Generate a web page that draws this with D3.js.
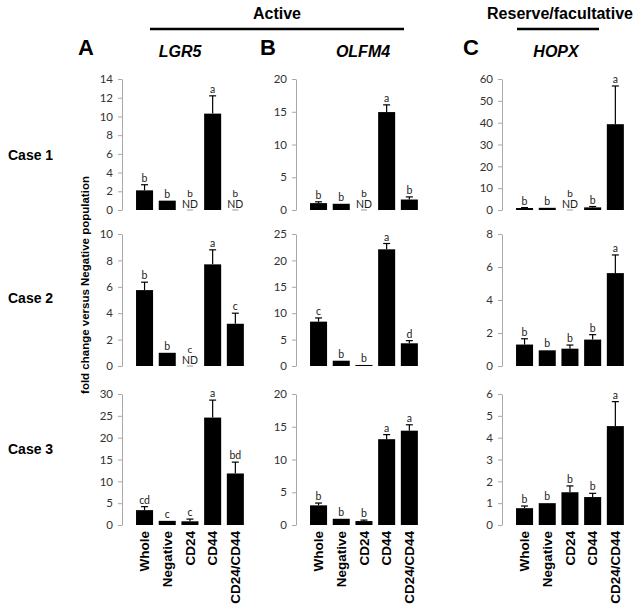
<!DOCTYPE html>
<html><head><meta charset="utf-8">
<script src="https://cdn.jsdelivr.net/npm/d3@7"></script>
<style>
body{margin:0;background:#fff;}
svg{display:block;}
</style></head>
<body><svg id="chart" width="641" height="611"></svg>
<script>
const categories = ["Whole","Negative","CD24","CD44","CD24/CD44"];
const genes = ["LGR5","OLFM4","HOPX"];
const panelLetters = ["A","B","C"];
const cases = ["Case 1","Case 2","Case 3"];

// null = ND (not detected)
const lgr5Means   = [[2.1,1.0,null,10.3,null],[5.75,1.0,null,7.7,3.2],[3.4,0.95,0.85,24.6,11.8]];
const lgr5Errors  = [[0.6,0,null,1.9,null],[0.6,0,null,1.1,0.8],[0.8,0,0.5,4.0,2.6]];
const lgr5Letters = [["b","b","b","a","b"],["b","b","c","a","c"],["cd","c","c","a","bd"]];

const olfm4Means   = [[1.05,0.95,null,14.95,1.6],[8.4,1.0,0.2,22.1,4.3],[3.0,0.95,0.6,13.1,14.4]];
const olfm4Errors  = [[0.2,0,null,1.1,0.4],[0.7,0,0,1.1,0.5],[0.35,0,0.15,0.7,0.9]];
const olfm4Letters = [["b","b","b","a","b"],["c","b","b","a","d"],["b","b","b","a","a"]];

const hopxMeans   = [[0.9,1.0,null,1.2,39.3],[1.3,0.95,1.05,1.6,5.63],[0.77,1.0,1.5,1.28,4.53]];
const hopxErrors  = [[0.2,0,null,0.4,17.5],[0.35,0,0.22,0.3,1.1],[0.1,0,0.29,0.17,1.12]];
const hopxLetters = [["b","b","b","b","a"],["b","b","b","b","a"],["b","b","b","b","a"]];

const lgr5YMax = [14,10,30],  lgr5YStep = [2,2,5];
const olfm4YMax = [20,25,20], olfm4YStep = [5,5,5];
const hopxYMax = [60,8,6],    hopxYStep = [10,2,1];

const groupTitles = ["Active","Reserve/facultative"];
const yTitle = "fold change versus Negative population";

const geneData = [
  {means:lgr5Means, errs:lgr5Errors, letters:lgr5Letters, ymax:lgr5YMax, ystep:lgr5YStep},
  {means:olfm4Means, errs:olfm4Errors, letters:olfm4Letters, ymax:olfm4YMax, ystep:olfm4YStep},
  {means:hopxMeans, errs:hopxErrors, letters:hopxLetters, ymax:hopxYMax, ystep:hopxYStep}
];

// layout
const axisX = [122, 296, 502];
const rowY = [[79,210],[234,366],[394,525]];
const bandOffset = 11.2, bandWidth = 113.5;
const boldFont = "'Liberation Sans', Arial, sans-serif";
const tickFont = "Lato, 'Open Sans', sans-serif";

const svg = d3.select("#chart");

// headers
svg.append("text").attr("x",277).attr("y",19).attr("text-anchor","middle")
  .attr("font-family",boldFont).attr("font-weight","bold").attr("font-size",16).text(groupTitles[0]);
svg.append("line").attr("x1",150).attr("x2",404).attr("y1",29).attr("y2",29).attr("stroke","#000").attr("stroke-width",2.5);
svg.append("text").attr("x",560).attr("y",19).attr("text-anchor","middle")
  .attr("font-family",boldFont).attr("font-weight","bold").attr("font-size",16).text(groupTitles[1]);
svg.append("line").attr("x1",517).attr("x2",599).attr("y1",29).attr("y2",29).attr("stroke","#000").attr("stroke-width",2.5);

const letterX = [78,260,463];
const geneX = [180,363,556];
panelLetters.forEach((L,i)=>{
  svg.append("text").attr("x",letterX[i]).attr("y",55)
    .attr("font-family",boldFont).attr("font-weight","bold").attr("font-size",22).text(L);
  svg.append("text").attr("x",geneX[i]).attr("y",57).attr("text-anchor","middle")
    .attr("font-family",boldFont).attr("font-weight","bold").attr("font-style","italic").attr("font-size",16).text(genes[i]);
});

// case labels
const caseY = [160,303,454];
cases.forEach((c,i)=>{
  svg.append("text").attr("x",8).attr("y",caseY[i])
    .attr("font-family",boldFont).attr("font-weight","bold").attr("font-size",14).text(c);
});

// y title
svg.append("text").attr("transform","translate(89,285) rotate(-90)").attr("text-anchor","middle")
  .attr("font-family",boldFont).attr("font-weight","bold").attr("font-size",11.5).text(yTitle);

geneData.forEach((g,gi)=>{
  const x = d3.scaleBand().domain(categories)
    .range([axisX[gi]+bandOffset, axisX[gi]+bandOffset+bandWidth])
    .paddingInner(0.25).paddingOuter(0.125);
  g.means.forEach((row,ri)=>{
    const y = d3.scaleLinear().domain([0,g.ymax[ri]]).range([rowY[ri][1],rowY[ri][0]]);
    const gp = svg.append("g");
    const ax = gp.append("g").attr("transform",`translate(${axisX[gi]},0)`)
      .call(d3.axisLeft(y).tickValues(d3.range(0,g.ymax[ri]+1e-9,g.ystep[ri]))
        .tickFormat(d3.format("d")).tickSize(4).tickSizeOuter(0).tickPadding(5));
    ax.select(".domain").attr("stroke","#a8a8a8");
    ax.selectAll(".tick line").attr("stroke","#a8a8a8");
    ax.selectAll(".tick text").attr("font-family",tickFont).attr("font-size",11.5).attr("fill","#333");

    categories.forEach((c,ci)=>{
      const v = row[ci], e = g.errs[ri][ci], lt = g.letters[ri][ci];
      const cx = x(c)+x.bandwidth()/2;
      if(v===null){
        gp.append("line").attr("x1",cx-3).attr("x2",cx+3).attr("y1",y(0)).attr("y2",y(0)).attr("stroke","#999").attr("stroke-width",1);
        gp.append("text").attr("x",cx).attr("y",y(0)-2).attr("text-anchor","middle")
          .attr("font-family",tickFont).attr("font-size",10.5).attr("fill","#222").text("ND");
        gp.append("text").attr("x",cx).attr("y",y(0)-13.5).attr("text-anchor","middle")
          .attr("font-family",tickFont).attr("font-size",10).attr("fill","#222").text(lt);
        return;
      }
      gp.append("rect").attr("x",x(c)).attr("width",x.bandwidth())
        .attr("y",y(v)).attr("height",y(0)-y(v)).attr("fill","#000");
      let topY = y(v);
      if(e>0){
        const ey = y(v+e);
        gp.append("line").attr("x1",cx).attr("x2",cx).attr("y1",y(v)).attr("y2",ey).attr("stroke","#000").attr("stroke-width",1.2);
        gp.append("line").attr("x1",cx-3.5).attr("x2",cx+3.5).attr("y1",ey).attr("y2",ey).attr("stroke","#000").attr("stroke-width",1.2);
        topY = ey;
      }
      gp.append("text").attr("x",cx).attr("y",topY-3).attr("text-anchor","middle")
        .attr("font-family",tickFont).attr("font-size",10.5).attr("fill","#222").text(lt);
    });

    if(ri===2){
      categories.forEach(c=>{
        const cx = x(c)+x.bandwidth()/2;
        gp.append("text").attr("transform",`translate(${cx},${rowY[ri][1]+6}) rotate(-90)`)
          .attr("text-anchor","end").attr("dy","0.35em")
          .attr("font-family",boldFont).attr("font-weight","bold").attr("font-size",13.5).text(c);
      });
    }
  });
});
</script>
</body></html>
